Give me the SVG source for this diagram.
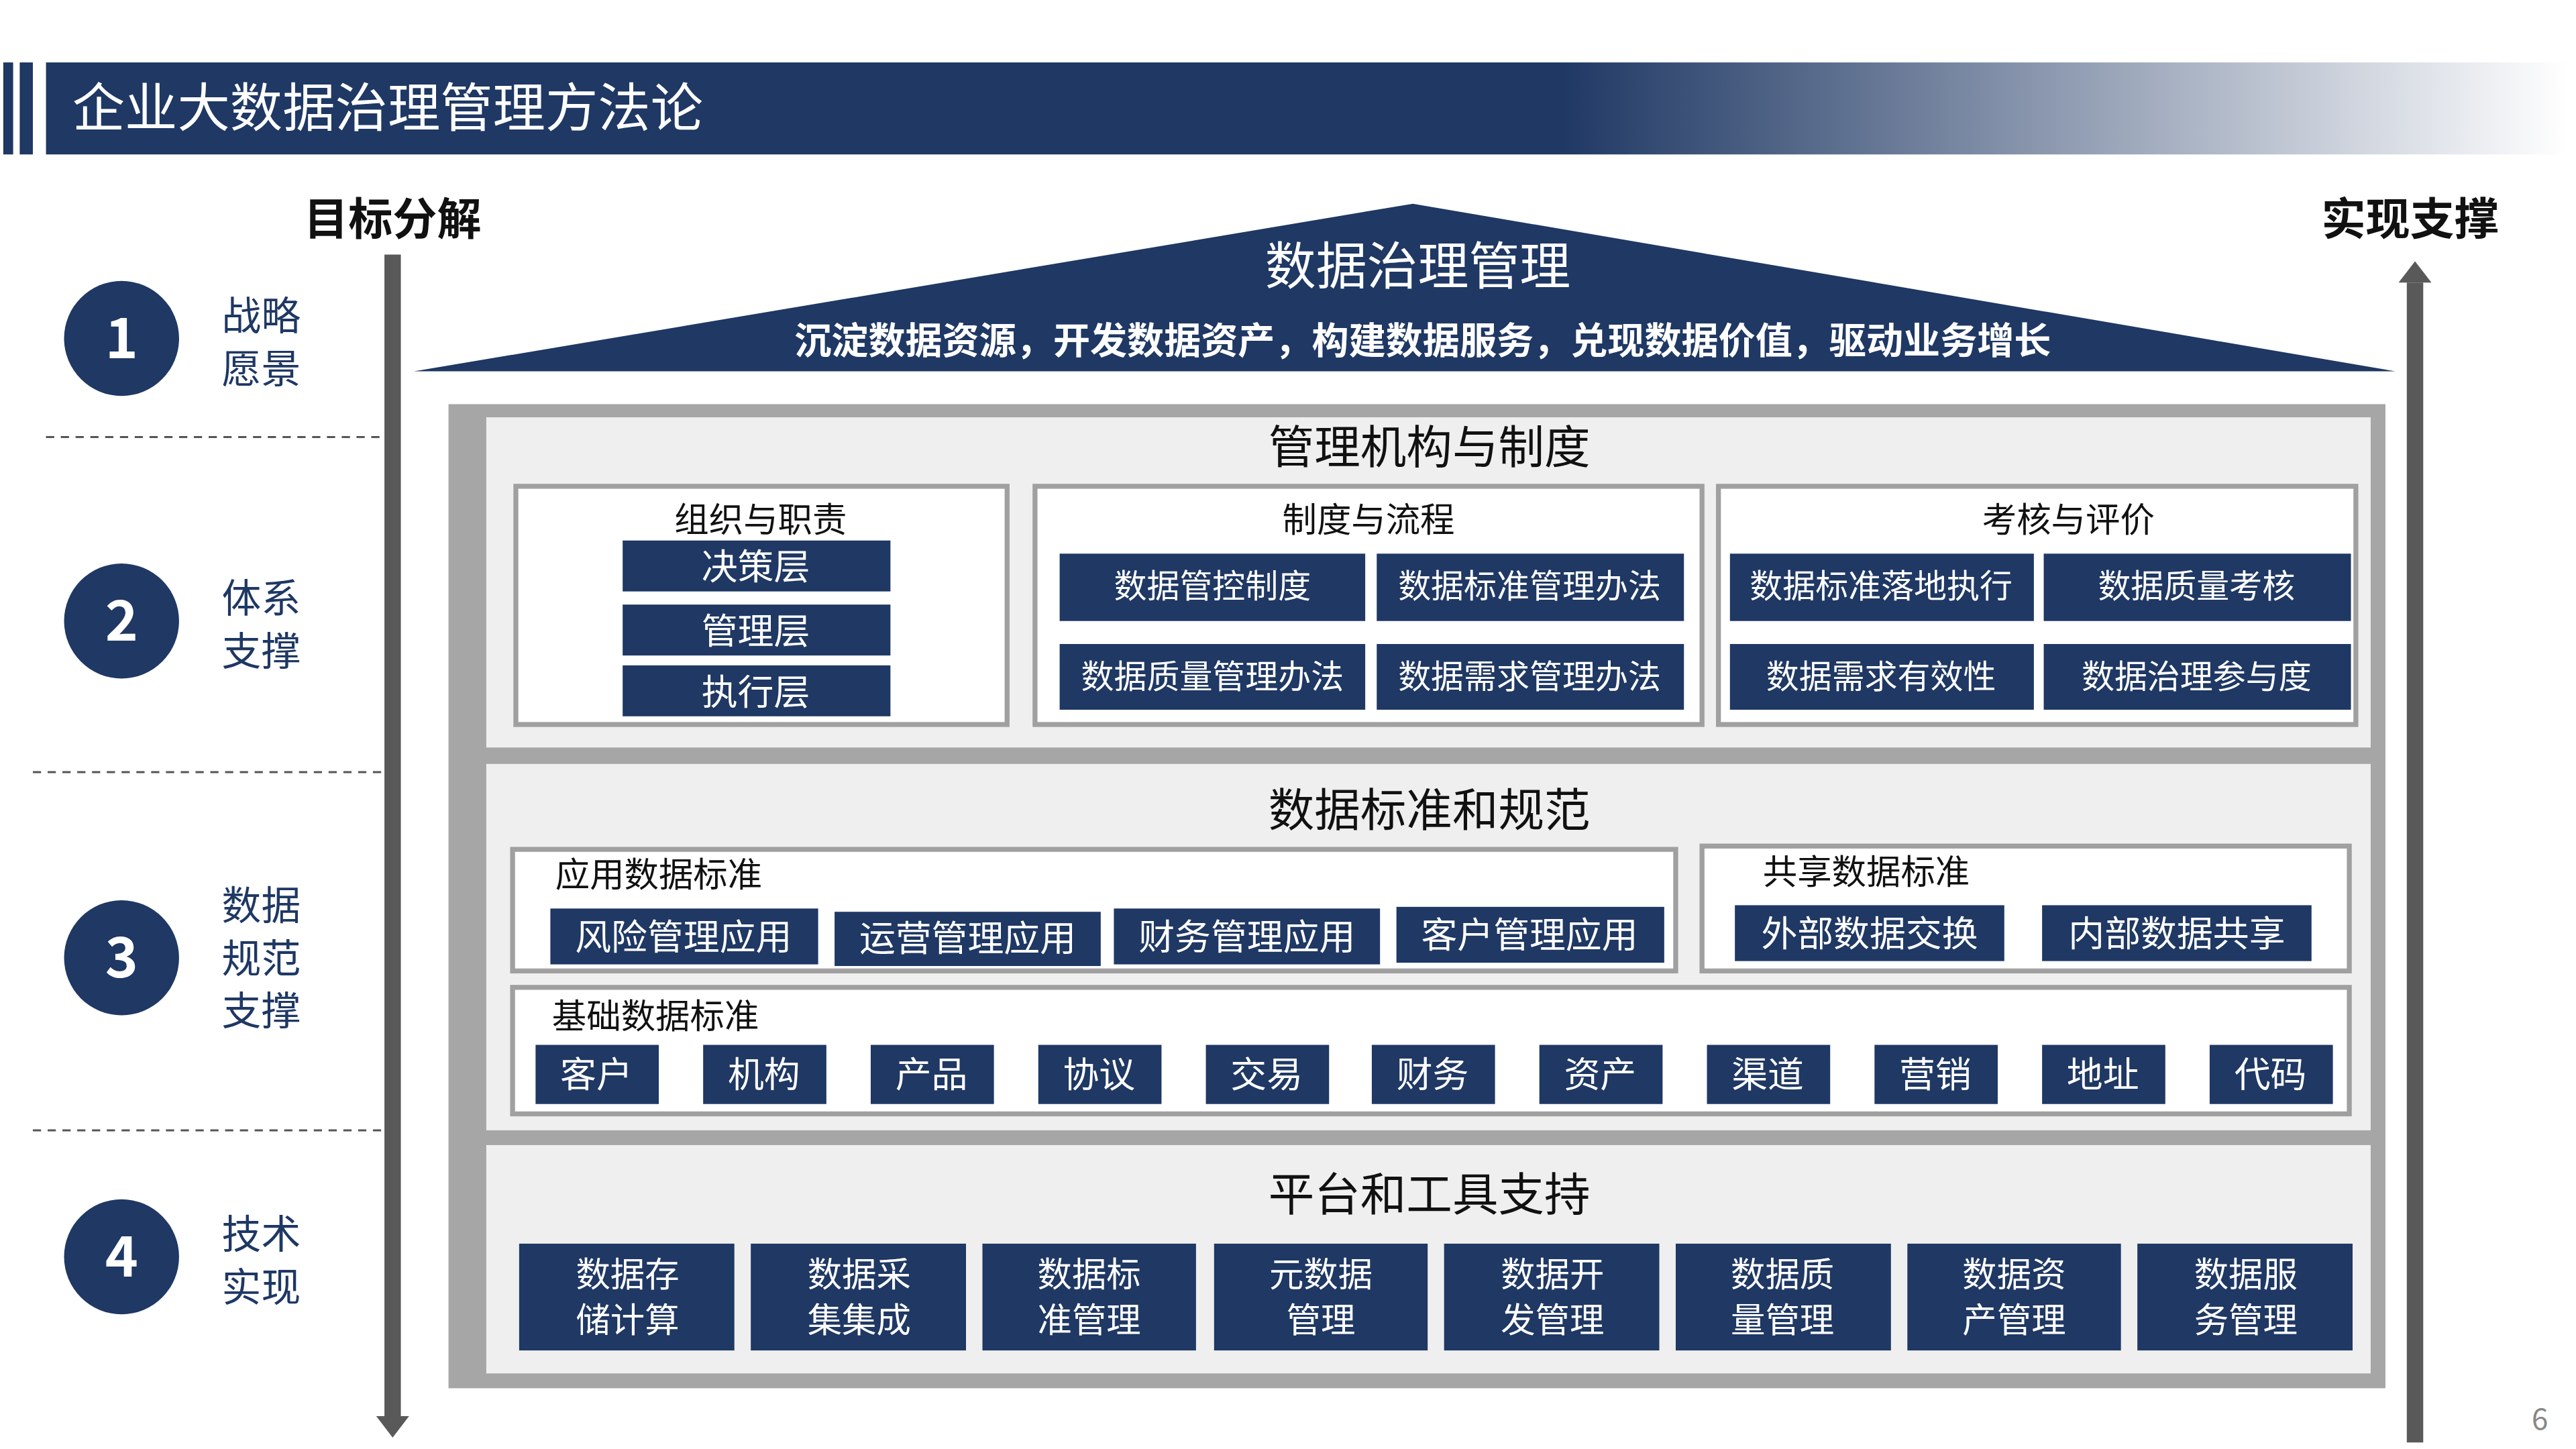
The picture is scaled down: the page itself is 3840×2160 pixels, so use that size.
<svg xmlns="http://www.w3.org/2000/svg" width="3840" height="2160" viewBox="0 0 3840 2160">
<defs>
<linearGradient id="tg" x1="0" x2="1" y1="0" y2="0">
<stop offset="0" stop-color="#1f3864"/><stop offset="0.6" stop-color="#1f3864"/><stop offset="1" stop-color="#1f3864" stop-opacity="0"/>
</linearGradient>
<style>
text{font-family:"Noto Sans CJK SC","Liberation Sans",sans-serif}
.nv{fill:#1f3864}
.w{fill:#fff}
.bt{fill:#fff;font-size:20px;text-anchor:middle}
.bt2{fill:#fff;font-size:22px;text-anchor:middle}
.bt3{fill:#fff;font-size:21px;text-anchor:middle}
.pt{fill:#111;font-size:28px;text-anchor:middle}
.sb{fill:#fff;stroke:#a0a0a0;stroke-width:3}
.lb{fill:#111;font-size:21px}
.side{fill:#1f3864;font-size:24px}
.dash{stroke:#555;stroke-width:1.2;stroke-dasharray:5 4}
</style>
</defs>
<rect width="3840" height="2160" fill="#fff"/>
<g transform="scale(2.449)">
<g id="title">
<rect x="2" y="38" width="6" height="56" class="nv"/>
<rect x="12" y="38" width="8" height="56" class="nv"/>
<rect x="28" y="38" width="1535" height="56" fill="url(#tg)"/>
<text x="44" y="77" fill="#fff" font-size="32">企业大数据治理管理方法论</text>
</g>
<text x="185" y="143" font-size="27" font-weight="bold" fill="#111">目标分解</text>
<text x="1413" y="143" font-size="27" font-weight="bold" fill="#111">实现支撑</text>
<g id="connectors">
<line x1="239" y1="155" x2="239" y2="862" stroke="#595959" stroke-width="10"/>
<polygon points="229,862 249,862 239,875" fill="#595959"/>
<line x1="1470" y1="878" x2="1470" y2="172" stroke="#595959" stroke-width="10"/>
<polygon points="1460,172 1480,172 1470,159" fill="#595959"/>
<line x1="28" y1="266" x2="232" y2="266" class="dash"/>
<line x1="20" y1="470" x2="232" y2="470" class="dash"/>
<line x1="20" y1="688" x2="232" y2="688" class="dash"/>
</g>
<g id="step1"><circle cx="74" cy="206" r="35" class="nv"/><text x="74" y="218" fill="#fff" font-size="34" text-anchor="middle" font-weight="bold">1</text><text x="135" y="201" class="side">战略</text><text x="135" y="233" class="side">愿景</text></g>
<g id="step2"><circle cx="74" cy="378" r="35" class="nv"/><text x="74" y="390" fill="#fff" font-size="34" text-anchor="middle" font-weight="bold">2</text><text x="135" y="373" class="side">体系</text><text x="135" y="405" class="side">支撑</text></g>
<g id="step3"><circle cx="74" cy="583" r="35" class="nv"/><text x="74" y="595" fill="#fff" font-size="34" text-anchor="middle" font-weight="bold">3</text><text x="135" y="560" class="side">数据</text><text x="135" y="592" class="side">规范</text><text x="135" y="624" class="side">支撑</text></g>
<g id="step4"><circle cx="74" cy="765" r="35" class="nv"/><text x="74" y="777" fill="#fff" font-size="34" text-anchor="middle" font-weight="bold">4</text><text x="135" y="760" class="side">技术</text><text x="135" y="792" class="side">实现</text></g>
<g id="roof">
<polygon points="252,226 860,124 1458,226" class="nv"/>
<text x="863" y="173" fill="#fff" font-size="31" text-anchor="middle">数据治理管理</text>
<text x="866" y="215" fill="#fff" font-size="22.5" font-weight="bold" text-anchor="middle">沉淀数据资源，开发数据资产，构建数据服务，兑现数据价值，驱动业务增长</text>
</g>
<rect x="273" y="246" width="1179" height="599" fill="#a6a6a6"/>
<g id="panel1">
<rect x="296" y="254" width="1147" height="201" fill="#efefef"/>
<text x="870" y="282" class="pt">管理机构与制度</text>
<rect x="314" y="296" width="299" height="145" class="sb"/>
<text x="463" y="324" class="lb" text-anchor="middle">组织与职责</text>
<rect x="379" y="329" width="163" height="31" class="nv"/><text x="460" y="353" class="bt2">决策层</text>
<rect x="379" y="368" width="163" height="31" class="nv"/><text x="460" y="392" class="bt2">管理层</text>
<rect x="379" y="405" width="163" height="31" class="nv"/><text x="460" y="429" class="bt2">执行层</text>
<rect x="630" y="296" width="406" height="145" class="sb"/>
<text x="833" y="324" class="lb" text-anchor="middle">制度与流程</text>
<rect x="645" y="337" width="186" height="41" class="nv"/><text x="738" y="364" class="bt">数据管控制度</text>
<rect x="838" y="337" width="187" height="41" class="nv"/><text x="931" y="364" class="bt">数据标准管理办法</text>
<rect x="645" y="392" width="186" height="40" class="nv"/><text x="738" y="419" class="bt">数据质量管理办法</text>
<rect x="838" y="392" width="187" height="40" class="nv"/><text x="931" y="419" class="bt">数据需求管理办法</text>
<rect x="1046" y="296" width="388" height="145" class="sb"/>
<text x="1259" y="324" class="lb" text-anchor="middle">考核与评价</text>
<rect x="1053" y="337" width="185" height="41" class="nv"/><text x="1145" y="364" class="bt">数据标准落地执行</text>
<rect x="1244" y="337" width="187" height="41" class="nv"/><text x="1337" y="364" class="bt">数据质量考核</text>
<rect x="1053" y="392" width="185" height="40" class="nv"/><text x="1145" y="419" class="bt">数据需求有效性</text>
<rect x="1244" y="392" width="187" height="40" class="nv"/><text x="1337" y="419" class="bt">数据治理参与度</text>
</g>
<g id="panel2">
<rect x="296" y="465" width="1147" height="223" fill="#efefef"/>
<text x="870" y="503" class="pt">数据标准和规范</text>
<rect x="312" y="517" width="708" height="74" class="sb"/>
<text x="338" y="540" class="lb">应用数据标准</text>
<rect x="335" y="553" width="163" height="34" class="nv"/><text x="416" y="578" class="bt2">风险管理应用</text>
<rect x="508" y="555" width="162" height="33" class="nv"/><text x="589" y="579" class="bt2">运营管理应用</text>
<rect x="678" y="553" width="162" height="34" class="nv"/><text x="759" y="578" class="bt2">财务管理应用</text>
<rect x="850" y="552" width="163" height="34" class="nv"/><text x="931" y="577" class="bt2">客户管理应用</text>
<rect x="1036" y="515" width="394" height="76" class="sb"/>
<text x="1073" y="538" class="lb">共享数据标准</text>
<rect x="1056" y="551" width="164" height="34" class="nv"/><text x="1138" y="576" class="bt2">外部数据交换</text>
<rect x="1243" y="551" width="164" height="34" class="nv"/><text x="1325" y="576" class="bt2">内部数据共享</text>
<rect x="312" y="601" width="1118" height="77" class="sb"/>
<text x="336" y="626" class="lb">基础数据标准</text>
<g>
<rect x="326" y="636" width="75" height="36" class="nv"/><text x="363" y="662" class="bt2">客户</text>
<rect x="428" y="636" width="75" height="36" class="nv"/><text x="465" y="662" class="bt2">机构</text>
<rect x="530" y="636" width="75" height="36" class="nv"/><text x="567" y="662" class="bt2">产品</text>
<rect x="632" y="636" width="75" height="36" class="nv"/><text x="669" y="662" class="bt2">协议</text>
<rect x="734" y="636" width="75" height="36" class="nv"/><text x="771" y="662" class="bt2">交易</text>
<rect x="835" y="636" width="75" height="36" class="nv"/><text x="872" y="662" class="bt2">财务</text>
<rect x="937" y="636" width="75" height="36" class="nv"/><text x="974" y="662" class="bt2">资产</text>
<rect x="1039" y="636" width="75" height="36" class="nv"/><text x="1076" y="662" class="bt2">渠道</text>
<rect x="1141" y="636" width="75" height="36" class="nv"/><text x="1178" y="662" class="bt2">营销</text>
<rect x="1243" y="636" width="75" height="36" class="nv"/><text x="1280" y="662" class="bt2">地址</text>
<rect x="1345" y="636" width="75" height="36" class="nv"/><text x="1382" y="662" class="bt2">代码</text>
</g>
</g>
<g id="panel3">
<rect x="296" y="697" width="1147" height="139" fill="#efefef"/>
<text x="870" y="737" class="pt">平台和工具支持</text>
<rect x="316" y="757" width="131" height="65" class="nv"/><text x="382" y="783" class="bt3">数据存</text><text x="382" y="811" class="bt3">储计算</text>
<rect x="457" y="757" width="131" height="65" class="nv"/><text x="523" y="783" class="bt3">数据采</text><text x="523" y="811" class="bt3">集集成</text>
<rect x="598" y="757" width="130" height="65" class="nv"/><text x="663" y="783" class="bt3">数据标</text><text x="663" y="811" class="bt3">准管理</text>
<rect x="739" y="757" width="130" height="65" class="nv"/><text x="804" y="783" class="bt3">元数据</text><text x="804" y="811" class="bt3">管理</text>
<rect x="879" y="757" width="131" height="65" class="nv"/><text x="945" y="783" class="bt3">数据开</text><text x="945" y="811" class="bt3">发管理</text>
<rect x="1020" y="757" width="131" height="65" class="nv"/><text x="1085" y="783" class="bt3">数据质</text><text x="1085" y="811" class="bt3">量管理</text>
<rect x="1161" y="757" width="130" height="65" class="nv"/><text x="1226" y="783" class="bt3">数据资</text><text x="1226" y="811" class="bt3">产管理</text>
<rect x="1301" y="757" width="131" height="65" class="nv"/><text x="1367" y="783" class="bt3">数据服</text><text x="1367" y="811" class="bt3">务管理</text>
</g>
<text x="1546" y="870" fill="#888" font-size="18" text-anchor="middle">6</text>
</g>
</svg>
